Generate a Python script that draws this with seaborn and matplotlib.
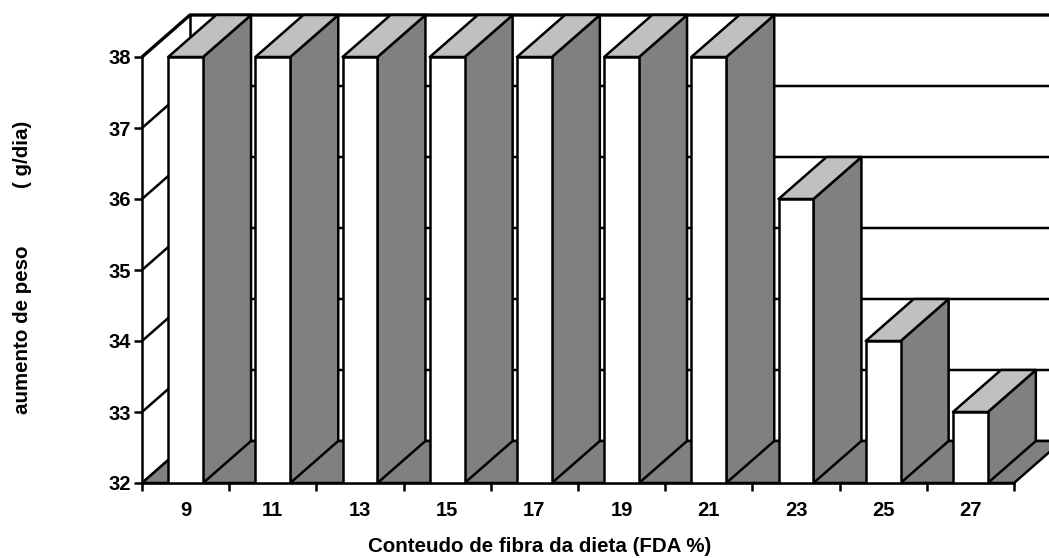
import pandas as pd
import matplotlib
matplotlib.use("Agg")
import matplotlib.pyplot as plt
import seaborn as sns

fibra = ["9", "11", "13", "15", "17", "19", "21", "23", "25", "27"]
aumento = [38, 38, 38, 38, 38, 38, 38, 36, 34, 33]
yticks = [32, 33, 34, 35, 36, 37, 38]

# deslocamento da perspectiva 3D (unidades dos eixos)
dx = 48 / 87.2
dy = 42 / 71
lw = 1.8

sns.set_style("white")
plt.rcParams["font.family"] = ["Liberation Sans", "DejaVu Sans"]
plt.rcParams["font.weight"] = "bold"

fig = plt.figure(figsize=(10.49, 5.58), dpi=100)
ax = fig.add_axes([142 / 1049, 75 / 558, 872 / 1049, 426 / 558])

df = pd.DataFrame({"fibra": fibra, "aumento": aumento})
sns.barplot(data=df, x="fibra", y="aumento", order=fibra, color="white", saturation=1,
            width=0.4, edgecolor="black", linewidth=lw, ax=ax, zorder=5)

x0, x1 = -0.5, len(fibra) - 0.5
ax.set_xlim(x0, x1)
ax.set_ylim(yticks[0], yticks[-1])
ymin = yticks[0]

# parede do fundo e parede esquerda
for y in yticks:
    ax.plot([x0, x0 + dx, x1 + dx], [y, y + dy, y + dy], color="black", clip_on=False, zorder=1,
            lw=2.4 if y == yticks[-1] else lw, solid_capstyle="butt")
ax.plot([x0 + dx, x0 + dx], [ymin + dy, yticks[-1] + dy], color="black", lw=lw, clip_on=False, zorder=1)

# chao
ax.fill([x0, x1, x1 + dx, x0 + dx], [ymin, ymin, ymin + dy, ymin + dy], facecolor="#808080",
        edgecolor="black", lw=lw, clip_on=False, zorder=2, joinstyle="miter")

# faces laterais e topo das barras
for bar, v in zip(ax.patches, aumento):
    a = bar.get_x()
    b = a + bar.get_width()
    ax.fill([b, b + dx, b + dx, b], [ymin, ymin + dy, v + dy, v], facecolor="#808080",
            edgecolor="black", lw=lw, clip_on=False, zorder=3, joinstyle="round")
    ax.fill([a, b, b + dx, a + dx], [v, v, v + dy, v + dy], facecolor="#C0C0C0",
            edgecolor="black", lw=lw, clip_on=False, zorder=3, joinstyle="round")

sns.despine(ax=ax)
for s in ["left", "bottom"]:
    ax.spines[s].set_linewidth(lw)
    ax.spines[s].set_color("black")
    ax.spines[s].set_zorder(6)

ax.set_yticks(yticks)
ax.set_xticks(range(len(fibra)))
ax.set_xticklabels(fibra)
ax.set_xticks([x0 + i for i in range(len(fibra) + 1)], minor=True)
ax.tick_params(axis="x", which="major", length=0, pad=13, labelsize=14.5, labelcolor="black")
ax.tick_params(axis="x", which="minor", bottom=True, length=6, width=lw, color="black")
ax.tick_params(axis="y", left=True, length=6, width=lw, color="black", pad=2, labelsize=14.5, labelcolor="black")

ax.set_xlabel("")
ax.set_ylabel("")
fig.text(540 / 1049, 1 - 546 / 558, "Conteudo de fibra da dieta (FDA %)", ha="center", va="center",
         fontsize=14.8, fontweight="bold", color="black")
fig.text(23 / 1049, 1 - 267 / 558, "aumento de peso          ( g/dia)", rotation=90, ha="center",
         va="center", fontsize=14.8, fontweight="bold", color="black")

fig.savefig("out.png", dpi=100)
